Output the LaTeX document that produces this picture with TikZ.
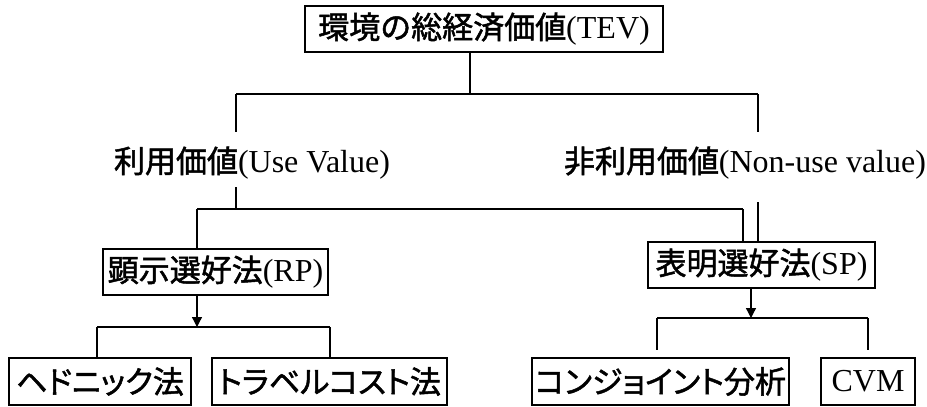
\documentclass[tikz,border=0pt]{standalone}
\usepackage{fontspec}
\setmainfont{Liberation Serif}
\newfontfamily\jpfont{Noto Sans CJK JP}[FakeBold=1.6]
\newfontfamily\jpkana{Noto Sans CJK JP}[FakeBold=1.6,RawFeature=+palt]
\usetikzlibrary{arrows.meta}
\newcommand{\J}[1]{{\jpfont\fontsize{31}{36}\selectfont #1}}
\newcommand{\K}[1]{{\jpkana\fontsize{31}{36}\selectfont #1}}
\begin{document}
\begin{tikzpicture}[x=1pt,y=-1pt,
  txt/.style={font=\fontsize{32}{36}\selectfont},
  box/.style={draw,line width=1.3pt,inner sep=0pt,txt,minimum height=46pt},
  lbl/.style={inner sep=0pt,txt},
  ln/.style={line width=1.3pt},
  arr/.style={ln,-{Triangle[length=10pt,width=10pt]}}]
\useasboundingbox (0,0) rectangle (927,407);
% nodes
\node[box,minimum width=358pt] (tev) at (484,29) {\J{環境の総経済価値}(TEV)};
\node[lbl] (use) at (252,163) {\J{利用価値}(Use Value)};
\node[lbl] (non) at (745,163) {\J{非利用価値}(Non-use value)};
\node[box,minimum width=225pt] (rp) at (215.5,272) {\J{顕示選好法}(RP)};
\node[box,minimum width=227pt] (sp) at (761.5,265) {\J{表明選好法}(SP)};
\node[box,minimum width=182pt,minimum height=47pt] (hed) at (100,381.5) {\K{ヘドニック法}};
\node[box,minimum width=235pt,minimum height=47pt] (tc) at (329.5,381.5) {\K{トラベルコスト法}};
\node[box,minimum width=257pt,minimum height=47pt] (cj) at (660.5,381.5) {\K{コンジョイント分析}};
\node[box,minimum width=94pt,minimum height=47pt] (cvm) at (868,381.5) {CVM};
% junction coordinates
\coordinate (j0) at (470,94);
\coordinate (tL) at (236,94);
\coordinate (tR) at (758,94);
\coordinate (uA) at (236,132);
\coordinate (uB) at (236,187);
\coordinate (uC) at (236,209);
\coordinate (rpj) at (197,209);
\coordinate (spj) at (743,209);
\coordinate (nA) at (758,132);
\coordinate (nB) at (758,202);
\coordinate (rpa) at (197,327);
\coordinate (hj) at (97,327);
\coordinate (tj) at (330,327);
\coordinate (spa) at (751,318);
\coordinate (cjj) at (657,318);
\coordinate (cvj) at (868,318);
\coordinate (cjE) at (657,350);
\coordinate (cvE) at (868,350);
% connectors
\draw[ln] (tev.south -| j0) -- (j0);
\draw[ln] (tL) -- (tR);
\draw[ln] (tL) -- (uA);
\draw[ln] (tR) -- (nA);
\draw[ln] (uB) -- (uC);
\draw[ln] (rpj) -- (spj);
\draw[ln] (rpj) -- (rpj |- rp.north);
\draw[ln] (spj) -- (spj |- sp.north);
\draw[ln] (nB) -- (nB |- sp.north);
\draw[arr] (rp.south -| rpa) -- (rpa);
\draw[ln] (hj) -- (tj);
\draw[ln] (hj) -- (hj |- hed.north);
\draw[ln] (tj) -- (tj |- tc.north);
\draw[arr] (sp.south -| spa) -- (spa);
\draw[ln] (cjj) -- (cvj);
\draw[ln] (cjj) -- (cjE);
\draw[ln] (cvj) -- (cvE);
\end{tikzpicture}
\end{document}
